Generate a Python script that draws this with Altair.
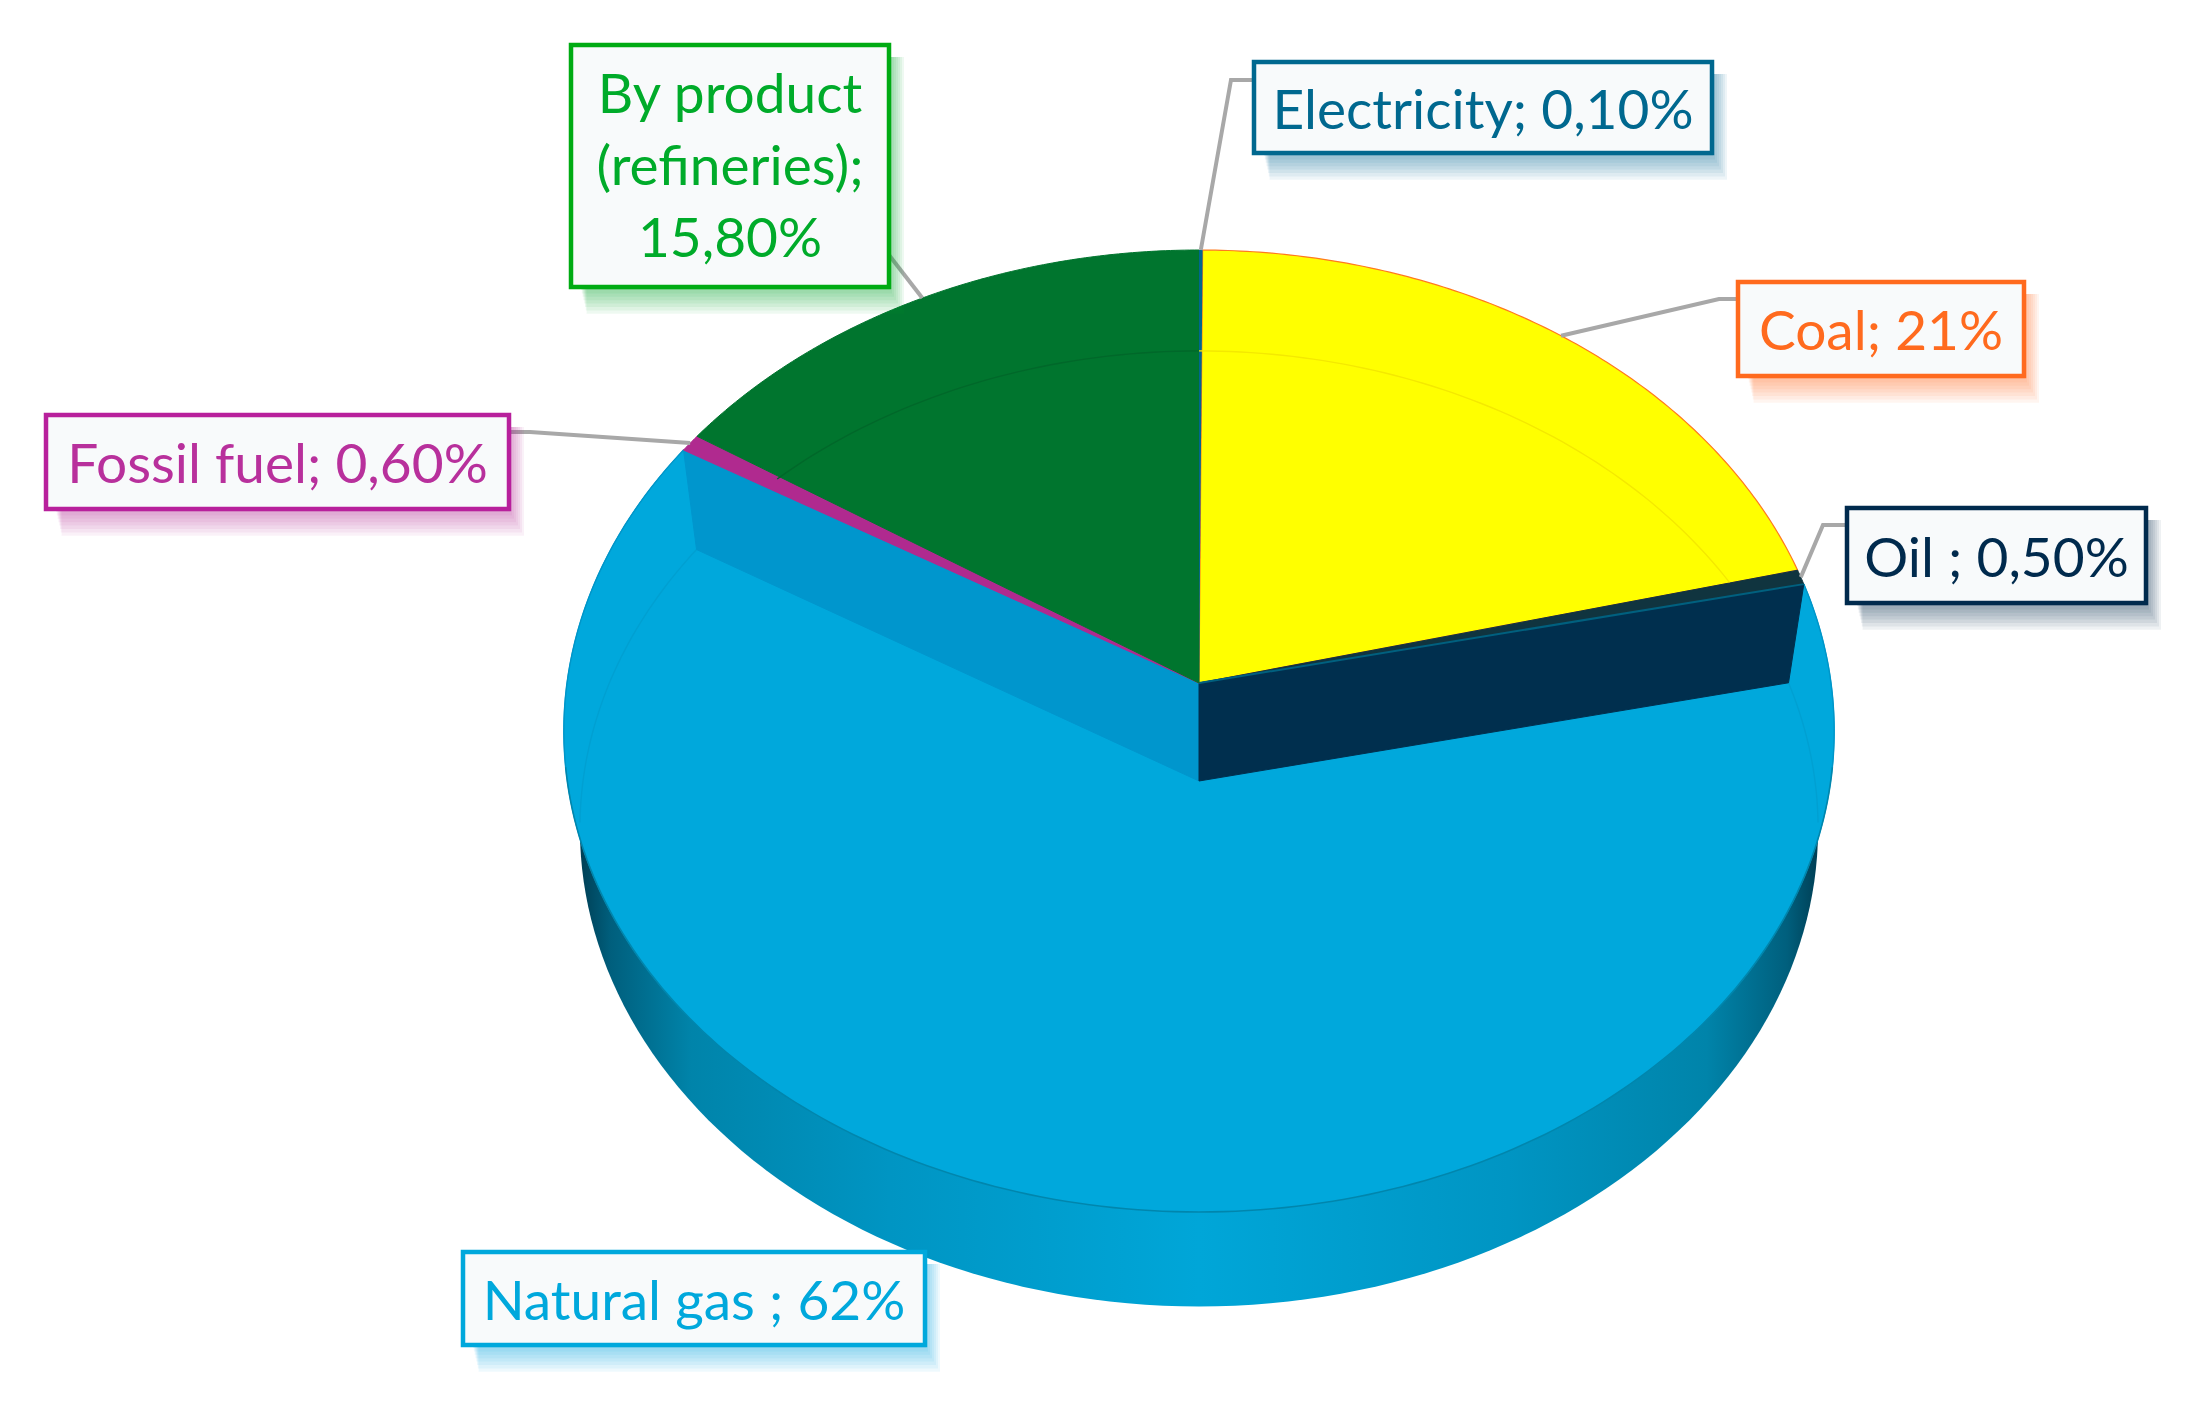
import math
import altair as alt
import pandas as pd

# ---- values ----
sources = ["Electricity", "Coal", "Oil", "Natural gas", "Fossil fuel", "By product (refineries)"]
shares = [0.10, 21.0, 0.50, 62.0, 0.60, 15.80]
label_rows = [
    ["Electricity; 0,10%"],
    ["Coal; 21%"],
    ["Oil ; 0,50%"],
    ["Natural gas ; 62%"],
    ["Fossil fuel; 0,60%"],
    ["By product", "(refineries);", "15,80%"],
]

# ---- styles ----
slice_colors = ["#00668e", "#ffff00", "#10343f", "#00a8dc", "#b02a8f", "#00752e"]
text_colors = ["#00688f", "#ff6a1e", "#002a4d", "#00a8dc", "#b8309c", "#00ab2a"]
border_colors = ["#00688f", "#ff6a1e", "#002a4d", "#00a8dc", "#b8209c", "#00ab13"]

# ---- layout (page pixels) ----
W, H, M = 2180, 1380, 8
boxes = [
    (1254, 62, 1712, 153),
    (1738, 282, 2024, 376),
    (1847, 508, 2146, 603),
    (463, 1252, 925, 1345),
    (46, 415, 509, 509),
    (571, 45, 889, 287),
]
elbows = [
    [(1254, 80), (1231, 80)],
    [(1738, 299), (1719, 299)],
    [(1847, 525), (1823, 525)],
    None,
    [(509, 432), (530, 432)],
    [(889, 255)],
]
FONT = "Lato"
FS = 55
CX = 1199
K = 0.0998
TOP = dict(cy=683, a=632, b=476.2)
LOW = dict(cy=781, a=616, b=473)

X = alt.X("x:Q", scale=alt.Scale(domain=[M, W + M]), axis=None)
Y = alt.Y("y:Q", scale=alt.Scale(domain=[H + M, M]), axis=None)


def pt(theta, plane):
    u, v = math.sin(math.radians(theta)), math.cos(math.radians(theta))
    w = 1 + K * v
    return CX + plane["a"] * u / w, plane["cy"] - plane["b"] * v / w


def arc(t0, t1, plane, n=120):
    return [pt(t0 + (t1 - t0) * i / n, plane) for i in range(n + 1)]


def path_df(points):
    return pd.DataFrame([{"x": p[0], "y": p[1], "i": i} for i, p in enumerate(points)])


def poly(points, fill, **kw):
    pts = list(points) + [points[0]]
    opts = dict(fill=fill, stroke=fill if isinstance(fill, str) else "#00000000", strokeWidth=1)
    opts.update(kw)
    return alt.Chart(path_df(pts)).mark_line(**opts).encode(x=X, y=Y, order="i:Q")


def line(points, color, width):
    return alt.Chart(path_df(points)).mark_line(color=color, strokeWidth=width).encode(x=X, y=Y, order="i:Q")


edges = [0.0]
for s in shares:
    edges.append(edges[-1] + s * 3.6)
edges[-1] = 360.0

c_top = (CX, TOP["cy"])
c_low = (CX, LOW["cy"])
layers = []

# side wall, lower plane of the disc
rim = alt.Gradient(
    gradient="linear", x1=0, x2=1, y1=0, y2=0,
    stops=[
        alt.GradientStop(offset=0.0, color="#003f55"),
        alt.GradientStop(offset=0.025, color="#005f7d"),
        alt.GradientStop(offset=0.09, color="#0084aa"),
        alt.GradientStop(offset=0.25, color="#0095c3"),
        alt.GradientStop(offset=0.5, color="#00a6d8"),
        alt.GradientStop(offset=0.75, color="#0095c3"),
        alt.GradientStop(offset=0.91, color="#0084aa"),
        alt.GradientStop(offset=0.975, color="#005f7d"),
        alt.GradientStop(offset=1.0, color="#003f55"),
    ],
)
layers.append(poly(arc(0, 360, LOW, 240), rim, strokeWidth=0))

# natural gas top surface and its edge line
gas0, gas1 = edges[3], edges[4]
layers.append(poly([c_top] + arc(gas0, gas1, TOP, 240), slice_colors[3]))
layers.append(line(arc(gas0, 100, TOP, 30), "#0095c8", 1.4))
layers.append(line(arc(260, gas1, TOP, 30), "#0095c8", 1.4))
layers.append(line(arc(100, 260, TOP, 160), "#0086ad", 1.6))
layers.append(line(arc(gas1, 265, LOW, 40), "#00a0d2", 1.4))
layers.append(line(arc(gas0, 95, LOW, 30), "#00a0d2", 1.4))

# the notch walls
layers.append(poly([c_top, c_low, pt(gas1, LOW), pt(gas1, TOP)], "#0096cd"))
layers.append(poly([c_top, c_low, pt(gas0, LOW), pt(gas0, TOP)], "#002f4e"))

# other slices
layers.append(poly([c_top] + arc(edges[1], edges[2], TOP), slice_colors[1], stroke="#ff7a1e", strokeWidth=1.2))
layers.append(poly([c_top] + arc(edges[2], edges[3], TOP, 10), slice_colors[2]))
layers.append(line([c_top, pt(edges[3], TOP)], "#00607f", 2))
layers.append(poly([c_top] + arc(edges[4], edges[5], TOP, 10), slice_colors[4]))
layers.append(poly([c_top] + arc(edges[5], edges[6], TOP), slice_colors[5]))
layers.append(poly([c_top] + arc(edges[0], edges[1], TOP, 4), slice_colors[0], strokeWidth=0))

# faint inner circle seen through the flat slices
layers.append(line(arc(0, 64, LOW, 60), "#f4e900", 1.4))
layers.append(line(arc(360, 313, LOW, 40), "#00682a", 1.4))

# leader lines, anchored at each slice's middle
for i, el in enumerate(elbows):
    if el is None:
        continue
    mid = (edges[i] + edges[i + 1]) / 2
    layers.append(line(el + [pt(mid, TOP)], "#a8a8a8", 4))

# label shadows, boxes, text
shadow_rows, box_rows, text_rows = [], [], []
for i, (x0, y0, x1, y1) in enumerate(boxes):
    for s in range(8):
        shadow_rows.append({
            "x": x0 + 10 + s * 0.8, "x2": x1 + 1 + s * 2,
            "y": y0 + 12, "y2": y1 + 3 + s * 3.4,
            "c": text_colors[i],
        })
    box_rows.append({"x": x0, "x2": x1, "y": y0, "y2": y1, "c": border_colors[i]})
    rows = label_rows[i]
    for r, t in enumerate(rows):
        yy = (y0 + y1) / 2 + (r - (len(rows) - 1) / 2) * 72 + (4 if len(rows) == 1 else 2)
        text_rows.append({"x": (x0 + x1) / 2, "y": yy, "t": t, "c": text_colors[i]})

X2 = alt.X2("x2:Q")
Y2 = alt.Y2("y2:Q")
color_id = alt.Color("c:N", scale=None, legend=None)
layers.append(alt.Chart(pd.DataFrame(shadow_rows)).mark_rect(opacity=0.065).encode(x=X, x2=X2, y=Y, y2=Y2, color=color_id))
layers.append(alt.Chart(pd.DataFrame(box_rows)).mark_rect(fill="#f8fafb", strokeWidth=4.5).encode(
    x=X, x2=X2, y=Y, y2=Y2, stroke=alt.Stroke("c:N", scale=None, legend=None)))
layers.append(alt.Chart(pd.DataFrame(text_rows)).mark_text(
    font=FONT, fontSize=FS, align="center", baseline="middle").encode(
    x=X, y=Y, text="t:N", color=color_id))

chart = alt.layer(*layers).properties(
    width=W, height=H, padding=0, background="white",
    autosize=alt.AutoSizeParams(type="none"),
).configure_view(stroke=None)

chart.save("out.html", embed_options={"renderer": "svg", "actions": False})
